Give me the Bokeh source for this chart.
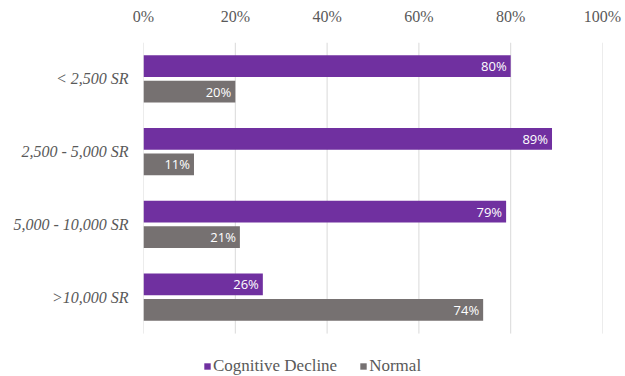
from bokeh.plotting import figure
from bokeh.models import ColumnDataSource, LabelSet, Legend, LegendItem, NumeralTickFormatter, FixedTicker, Range1d
from bokeh.core.properties import value
from bokeh.embed import file_html
from bokeh.resources import INLINE

categories = ["< 2,500 SR", "2,500 - 5,000 SR", "5,000 - 10,000 SR", ">10,000 SR"]
cognitive_decline = [0.80, 0.89, 0.79, 0.26]
normal = [0.20, 0.11, 0.21, 0.74]
tick_values = [0, 0.2, 0.4, 0.6, 0.8, 1.0]

PURPLE = "#7030A0"
GRAY = "#767171"
TXT = "#595959"

n = len(categories)
pos = [n - 1 - i for i in range(n)]  # top-to-bottom order
OFF = 0.175

src = ColumnDataSource(dict(
    pos=pos,
    cd_y=[y + OFF for y in pos],
    nm_y=[y - OFF for y in pos],
    cd=cognitive_decline,
    nm=normal,
    cd_lbl=[f"{round(v*100)}%" for v in cognitive_decline],
    nm_lbl=[f"{round(v*100)}%" for v in normal],
))

p = figure(width=625, height=376, output_backend="svg", toolbar_location=None,
           x_range=Range1d(0, 1.0), y_range=Range1d(-0.5 - 0.59, n - 0.5),
           x_axis_location="above",
           min_border_left=143, min_border_right=23, min_border_top=42, min_border_bottom=0)
p.outline_line_color = None
p.background_fill_color = "white"

# gridlines limited to the category area
p.segment(x0=tick_values, x1=tick_values, y0=[-0.5] * len(tick_values), y1=[n - 0.5] * len(tick_values),
          line_color="#d9d9d9", line_width=1)

r1 = p.hbar(y="cd_y", right="cd", left=0, height=0.30,
            source=src, fill_color=PURPLE, line_color=None)
r2 = p.hbar(y="nm_y", right="nm", left=0, height=0.30,
            source=src, fill_color=GRAY, line_color=None)

for col, lbl, ycol in (("cd", "cd_lbl", "cd_y"), ("nm", "nm_lbl", "nm_y")):
    ls = LabelSet(x=col, y=ycol, text=lbl, source=src,
                  x_offset=-4, text_align="right", text_baseline="middle",
                  text_color="white", text_font=value("Open Sans"), text_font_size="13px")
    p.add_layout(ls)

p.xaxis.ticker = FixedTicker(ticks=tick_values)
p.xaxis.formatter = NumeralTickFormatter(format="0%")
p.xaxis.axis_line_color = None
p.xaxis.major_tick_line_color = None
p.xaxis.minor_tick_line_color = None
p.xaxis.major_label_text_font = "Liberation Serif"
p.xaxis.major_label_text_font_size = "16px"
p.xaxis.major_label_text_color = TXT
p.xaxis.major_label_standoff = 12

p.yaxis.ticker = FixedTicker(ticks=pos)
p.yaxis.major_label_overrides = {y: c for y, c in zip(pos, categories)}
p.yaxis.axis_line_color = None
p.yaxis.major_tick_line_color = None
p.yaxis.minor_tick_line_color = None
p.yaxis.major_label_text_font = "Liberation Serif"
p.yaxis.major_label_text_font_style = "italic"
p.yaxis.major_label_text_font_size = "16px"
p.yaxis.major_label_text_color = TXT
p.yaxis.major_label_standoff = 9

p.xgrid.grid_line_color = None
p.ygrid.grid_line_color = None

legend = Legend(items=[LegendItem(label="Cognitive Decline", renderers=[r1]),
                       LegendItem(label="Normal", renderers=[r2])],
                orientation="horizontal", location=(60, 0),
                label_text_font_size="17px",
                label_text_color=TXT, glyph_width=8, glyph_height=8,
                label_standoff=2, spacing=22, border_line_color=None,
                background_fill_alpha=0, padding=0, margin=0)
p.add_layout(legend, "center")
p.legend.label_text_font = "serif"

open("out.html", "w").write(file_html(p, INLINE))
